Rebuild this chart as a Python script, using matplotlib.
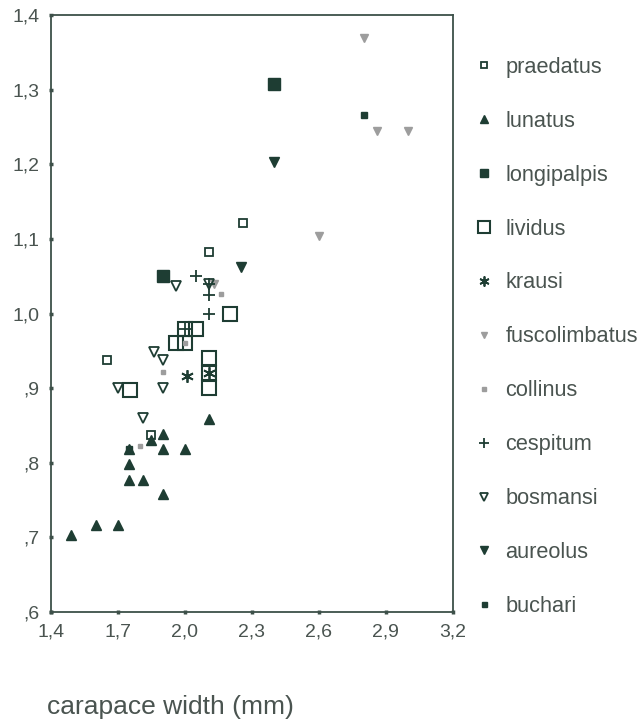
import numpy as np
import matplotlib.pyplot as plt

plt.rcParams['font.family'] = ['Liberation Sans', 'DejaVu Sans']

# carapace width (x) / y values per species
praedatus_x = [1.65, 1.85, 2.11, 2.26]
praedatus_y = [0.938, 0.837, 1.082, 1.122]
lunatus_x = [1.49, 1.60, 1.70, 1.75, 1.81, 1.75, 1.75, 1.85, 1.90, 1.90, 1.90, 2.00, 2.11]
lunatus_y = [0.703, 0.717, 0.717, 0.777, 0.777, 0.798, 0.818, 0.83, 0.838, 0.818, 0.758, 0.818, 0.859]
longipalpis_x = [1.90, 2.40]
longipalpis_y = [1.051, 1.308]
lividus_x = [1.755, 1.96, 2.00, 2.00, 2.05, 2.11, 2.11, 2.11, 2.20]
lividus_y = [0.897, 0.96, 0.96, 0.98, 0.98, 0.94, 0.92, 0.90, 1.00]
krausi_x = [2.01, 2.11]
krausi_y = [0.916, 0.92]
fuscolimbatus_x = [2.80, 2.86, 3.00, 2.60, 2.13]
fuscolimbatus_y = [1.37, 1.245, 1.245, 1.104, 1.04]
collinus_x = [1.90, 1.80, 2.00, 2.16]
collinus_y = [0.922, 0.822, 0.96, 1.026]
cespitum_x = [2.05, 2.11, 2.11, 2.11, 2.00]
cespitum_y = [1.05, 1.04, 1.025, 1.00, 0.98]
bosmansi_x = [1.70, 1.81, 1.86, 1.90, 1.90, 1.96, 2.11]
bosmansi_y = [0.90, 0.86, 0.949, 0.938, 0.90, 1.037, 1.04]
aureolus_x = [2.40, 2.25]
aureolus_y = [1.203, 1.063]
buchari_x = [2.80, 1.75]
buchari_y = [1.266, 0.818]

xticks = [1.4, 1.7, 2.0, 2.3, 2.6, 2.9, 3.2]
xtick_labels = ['1,4', '1,7', '2,0', '2,3', '2,6', '2,9', '3,2']
yticks = [0.6, 0.7, 0.8, 0.9, 1.0, 1.1, 1.2, 1.3, 1.4]
ytick_labels = [',6', ',7', ',8', ',9', '1,0', '1,1', '1,2', '1,3', '1,4']

dark = '#1e3d33'
grey = '#9d9d9d'
axcol = '#3d5049'
txtcol = '#4a5450'

fig = plt.figure(figsize=(6.42, 7.19), dpi=100)
ax = fig.add_axes([0.0794, 0.1488, 0.626, 0.830])

ax.plot(praedatus_x, praedatus_y, 's', ms=6, mfc='none', mec=dark, mew=1.3, label='praedatus')
ax.plot(lunatus_x, lunatus_y, '^', ms=7, color=dark, label='lunatus')
ax.plot(longipalpis_x, longipalpis_y, 's', ms=8, color=dark, label='longipalpis')
ax.plot(lividus_x, lividus_y, 's', ms=10, mfc='none', mec=dark, mew=1.5, label='lividus')
ax.plot(krausi_x, krausi_y, marker=(6, 2, 0), ls='none', ms=9, mec=dark, mew=1.3, label='krausi')
ax.plot(fuscolimbatus_x, fuscolimbatus_y, 'v', ms=6, color=grey, label='fuscolimbatus')
ax.plot(collinus_x, collinus_y, 's', ms=3.5, color=grey, label='collinus')
ax.plot(cespitum_x, cespitum_y, '+', ms=9, mec=dark, mew=1.3, label='cespitum')
ax.plot(bosmansi_x, bosmansi_y, 'v', ms=7, mfc='none', mec=dark, mew=1.3, label='bosmansi')
ax.plot(aureolus_x, aureolus_y, 'v', ms=6.5, color=dark, label='aureolus')
ax.plot(buchari_x, buchari_y, 's', ms=4.5, color=dark, label='buchari')

ax.set_xlim(1.4, 3.2)
ax.set_ylim(0.6, 1.4)
ax.set_xticks(xticks)
ax.set_xticklabels(xtick_labels)
ax.set_yticks(yticks)
ax.set_yticklabels(ytick_labels)
ax.tick_params(direction='inout', length=3, width=2.5, colors=axcol,
               labelcolor=txtcol, labelsize=14, pad=7)
for sp in ax.spines.values():
    sp.set_color(axcol)
    sp.set_linewidth(1.3)

leg = ax.legend(loc='upper left', bbox_to_anchor=(1.028, 0.945), frameon=False,
                fontsize=15.7, labelspacing=1.51, handletextpad=0.5,
                handlelength=1.0, borderaxespad=0, markerscale=0.8)
for t in leg.get_texts():
    t.set_color(txtcol)

fig.text(47 / 642, 1 - 707 / 719, 'carapace width (mm)', fontsize=19,
         color=txtcol, ha='left', va='center')

plt.savefig('out.png', dpi=100)
